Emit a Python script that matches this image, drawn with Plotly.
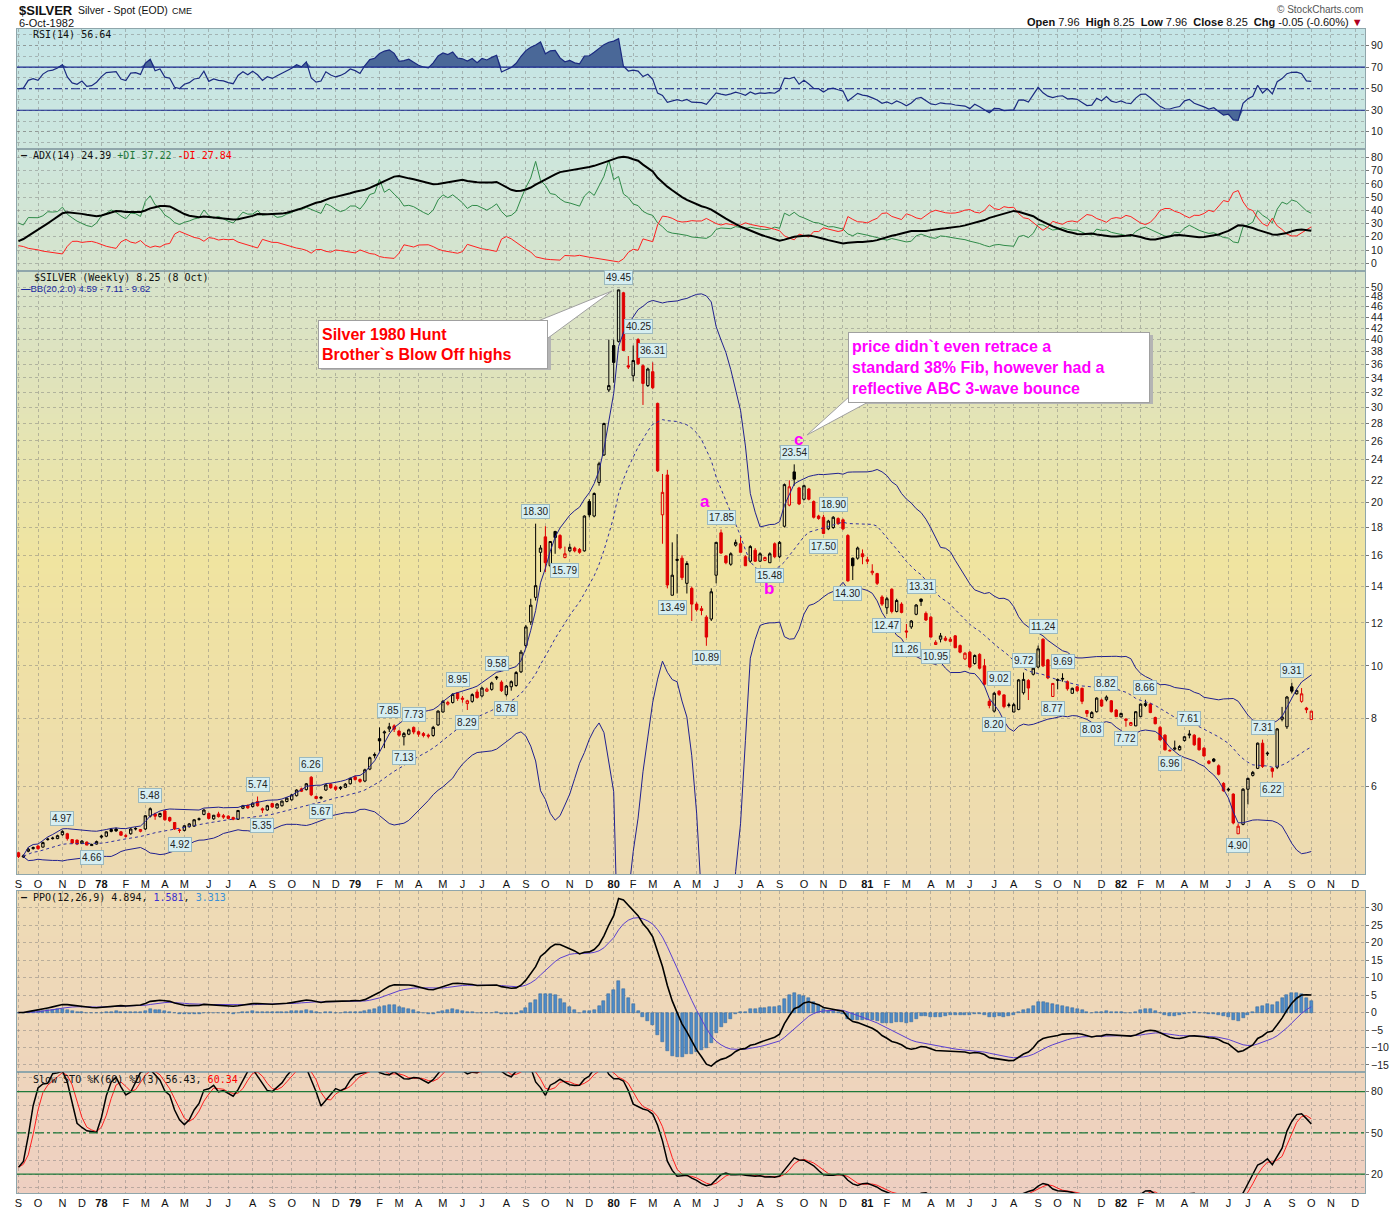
import numpy as np
import pandas as pd
import plotly.graph_objects as go

# ---- weekly $SILVER candles, week ending Fri 9-Sep-1977 .. 8-Oct-1982 ----
week_open = [
    4.52, 4.44, 4.55, 4.60, 4.65, 4.63, 4.78, 4.80, 4.80, 4.88,
    4.90, 4.78, 4.77, 4.70, 4.73, 4.66, 4.69, 4.83, 4.85, 4.99,
    5.00, 4.94, 4.86, 4.90, 5.00, 4.95, 5.00, 5.28, 5.33, 5.27,
    5.40, 5.25, 5.14, 4.98, 4.97, 5.05, 5.06, 5.21, 5.32, 5.34,
    5.22, 5.33, 5.29, 5.28, 5.25, 5.21, 5.46, 5.53, 5.50, 5.62,
    5.45, 5.42, 5.57, 5.47, 5.52, 5.62, 5.66, 5.76, 5.93, 5.91,
    6.23, 5.74, 5.70, 5.90, 6.05, 5.98, 5.94, 5.97, 6.06, 6.24,
    6.17, 6.13, 6.45, 6.83, 7.34, 7.52, 7.65, 7.75, 7.58, 7.40,
    7.48, 7.70, 7.56, 7.50, 7.45, 7.44, 7.78, 8.22, 8.50, 8.56,
    8.92, 8.72, 8.52, 8.60, 8.95, 8.80, 8.98, 9.05, 9.50, 9.33,
    8.85, 9.15, 9.20, 9.75, 10.90, 12.05, 13.38, 16.20, 17.30, 15.30,
    17.70, 17.40, 15.85, 16.30, 16.50, 16.40, 16.30, 20.10, 18.90, 21.80,
    24.50, 32.30, 39.00, 39.70, 48.80, 35.80, 34.30, 40.00, 35.80, 32.90,
    34.90, 30.50, 19.00, 22.50, 13.50, 15.65, 15.80, 14.20, 13.90, 13.00,
    12.75, 12.30, 12.20, 14.70, 17.60, 15.95, 15.40, 16.70, 16.80, 15.90,
    15.60, 16.35, 15.60, 15.65, 15.50, 16.80, 15.90, 18.10, 19.80, 22.80,
    21.30, 20.30, 21.20, 20.10, 18.90, 18.80, 17.90, 18.00, 18.70, 18.60,
    17.40, 15.80, 15.80, 16.10, 15.70, 14.85, 14.80, 13.40, 12.80, 13.85,
    12.60, 13.00, 11.60, 11.80, 12.45, 13.28, 12.50, 12.30, 10.95, 11.20,
    11.25, 11.20, 11.36, 10.90, 10.30, 10.60, 10.10, 10.50, 10.00, 8.60,
    8.25, 8.98, 8.84, 8.45, 8.22, 8.31, 8.92, 9.40, 9.65, 9.95,
    11.20, 10.26, 8.78, 9.40, 9.45, 9.35, 8.90, 9.15, 9.09, 8.27,
    8.03, 8.23, 8.65, 8.66, 8.62, 8.29, 8.05, 7.98, 7.77, 7.75,
    8.06, 8.45, 8.50, 8.03, 7.70, 7.45, 6.98, 7.02, 7.00, 7.28,
    7.45, 7.45, 7.35, 7.05, 6.67, 6.73, 6.54, 6.07, 5.90, 5.80,
    4.90, 5.10, 5.92, 6.28, 6.47, 7.20, 6.88, 6.47, 6.50, 7.97,
    7.72, 9.15, 8.88, 8.60, 8.36, 7.96,
]
week_high = [
    4.54, 4.49, 4.62, 4.64, 4.67, 4.74, 4.82, 4.84, 4.88, 4.97,
    4.92, 4.79, 4.78, 4.77, 4.74, 4.70, 4.76, 4.88, 4.95, 5.02,
    5.03, 4.96, 4.90, 5.02, 5.04, 5.00, 5.30, 5.48, 5.36, 5.36,
    5.42, 5.27, 5.15, 5.01, 5.08, 5.13, 5.21, 5.25, 5.44, 5.36,
    5.31, 5.38, 5.33, 5.30, 5.27, 5.42, 5.54, 5.55, 5.60, 5.74,
    5.48, 5.54, 5.59, 5.58, 5.64, 5.72, 5.80, 5.92, 5.96, 6.08,
    6.26, 5.76, 5.75, 6.05, 6.08, 6.02, 6.00, 6.08, 6.22, 6.28,
    6.20, 6.46, 6.80, 6.92, 7.70, 7.60, 7.85, 7.80, 7.62, 7.55,
    7.66, 7.73, 7.60, 7.55, 7.50, 7.75, 8.28, 8.65, 8.62, 8.90,
    8.95, 8.80, 8.66, 8.90, 9.05, 9.15, 9.12, 9.35, 9.58, 9.40,
    9.22, 9.40, 9.78, 10.70, 11.90, 13.30, 18.30, 16.70, 18.10, 17.00,
    17.75, 17.50, 16.60, 16.80, 16.60, 16.50, 18.95, 20.30, 20.90, 23.80,
    28.10, 40.00, 40.00, 49.45, 49.00, 37.30, 39.00, 40.25, 36.00, 35.50,
    36.31, 30.60, 22.60, 23.00, 16.90, 17.50, 16.00, 15.60, 14.00, 13.10,
    12.90, 12.40, 13.90, 16.90, 17.85, 16.00, 16.20, 17.10, 17.30, 16.00,
    16.70, 16.50, 16.20, 15.90, 16.20, 16.90, 17.00, 21.70, 22.00, 23.54,
    21.40, 21.60, 21.30, 20.20, 19.00, 19.00, 18.60, 18.90, 18.80, 18.70,
    17.50, 15.85, 16.60, 16.40, 15.90, 15.40, 14.85, 13.50, 13.40, 13.90,
    13.30, 13.10, 11.95, 12.15, 13.00, 13.31, 12.60, 12.35, 11.15, 11.50,
    11.35, 11.30, 11.40, 10.95, 10.60, 10.65, 10.50, 10.55, 10.30, 8.70,
    8.95, 9.02, 8.86, 8.55, 8.55, 9.45, 9.72, 9.45, 9.95, 10.90,
    11.24, 10.30, 9.30, 9.48, 9.69, 9.40, 9.12, 9.18, 9.12, 8.28,
    8.25, 8.75, 8.70, 8.82, 8.65, 8.32, 8.20, 8.00, 7.88, 8.25,
    8.52, 8.66, 8.55, 8.06, 7.75, 7.48, 7.02, 7.28, 7.14, 7.42,
    7.61, 7.48, 7.38, 7.08, 6.70, 6.76, 6.58, 6.10, 5.96, 5.82,
    5.12, 5.95, 6.22, 6.40, 7.22, 7.31, 6.95, 6.50, 7.68, 8.40,
    8.80, 9.31, 9.05, 9.10, 8.40, 8.25,
]
week_low = [
    4.42, 4.42, 4.53, 4.58, 4.58, 4.62, 4.76, 4.78, 4.79, 4.86,
    4.76, 4.69, 4.67, 4.69, 4.67, 4.66, 4.68, 4.80, 4.83, 4.93,
    4.94, 4.86, 4.82, 4.88, 4.97, 4.93, 4.98, 5.25, 5.20, 5.25,
    5.18, 5.15, 4.98, 4.92, 4.95, 5.03, 5.05, 5.18, 5.30, 5.21,
    5.20, 5.25, 5.22, 5.21, 5.19, 5.20, 5.44, 5.45, 5.48, 5.50,
    5.35, 5.40, 5.47, 5.45, 5.50, 5.60, 5.64, 5.74, 5.85, 5.89,
    5.75, 5.68, 5.67, 5.88, 5.93, 5.88, 5.90, 5.95, 6.04, 6.14,
    6.08, 6.10, 6.42, 6.75, 6.95, 7.05, 7.55, 7.55, 7.40, 7.13,
    7.45, 7.48, 7.40, 7.38, 7.35, 7.40, 7.75, 8.20, 8.45, 8.52,
    8.62, 8.55, 8.29, 8.55, 8.70, 8.75, 8.95, 9.00, 9.42, 8.95,
    8.78, 9.00, 9.15, 9.70, 10.80, 11.90, 13.20, 14.90, 14.90, 15.20,
    16.10, 16.40, 15.79, 16.20, 16.20, 16.10, 16.25, 18.80, 18.80, 21.50,
    24.40, 32.00, 33.30, 39.50, 38.10, 35.30, 33.50, 35.90, 30.30, 32.70,
    32.40, 22.80, 16.80, 13.90, 13.49, 13.60, 14.40, 13.60, 12.10, 12.60,
    12.40, 10.89, 12.10, 14.20, 16.10, 15.40, 15.30, 16.60, 16.20, 15.30,
    15.50, 15.55, 15.55, 15.60, 15.48, 15.80, 15.80, 18.00, 19.70, 21.50,
    19.80, 20.20, 20.20, 18.70, 18.60, 17.50, 17.80, 17.90, 18.20, 17.80,
    14.30, 14.40, 15.70, 15.40, 15.40, 14.70, 14.10, 12.90, 12.47, 12.50,
    12.55, 12.50, 11.26, 11.70, 12.40, 12.90, 12.10, 11.30, 10.95, 11.05,
    11.10, 11.05, 10.80, 10.55, 10.25, 9.90, 10.05, 9.85, 9.20, 8.35,
    8.20, 8.80, 8.35, 8.38, 8.21, 8.28, 8.85, 8.65, 9.60, 9.90,
    9.95, 9.45, 8.77, 9.05, 9.35, 9.00, 8.88, 8.95, 8.50, 8.05,
    8.03, 8.20, 8.40, 8.60, 8.20, 8.05, 8.04, 7.72, 7.75, 7.74,
    8.04, 8.40, 8.18, 7.80, 7.28, 6.98, 6.96, 6.98, 6.98, 7.25,
    7.35, 7.12, 6.98, 6.80, 6.58, 6.64, 6.28, 5.86, 5.86, 5.10,
    4.90, 5.08, 5.55, 6.25, 6.45, 6.48, 6.82, 6.22, 6.45, 7.90,
    7.65, 8.90, 8.85, 8.55, 8.18, 7.94,
]
week_close = [
    4.45, 4.46, 4.59, 4.62, 4.60, 4.72, 4.79, 4.81, 4.86, 4.95,
    4.80, 4.71, 4.69, 4.75, 4.67, 4.68, 4.74, 4.85, 4.94, 4.95,
    4.96, 4.87, 4.85, 5.00, 5.01, 4.99, 5.29, 5.45, 5.28, 5.34,
    5.20, 5.18, 5.00, 4.97, 5.07, 5.11, 5.20, 5.22, 5.42, 5.23,
    5.30, 5.27, 5.26, 5.23, 5.21, 5.41, 5.52, 5.47, 5.58, 5.52,
    5.42, 5.52, 5.49, 5.56, 5.63, 5.70, 5.78, 5.90, 5.87, 6.06,
    5.78, 5.69, 5.72, 6.03, 5.96, 5.92, 5.97, 6.05, 6.20, 6.17,
    6.12, 6.43, 6.77, 6.86, 7.27, 7.55, 7.72, 7.64, 7.45, 7.50,
    7.62, 7.55, 7.48, 7.44, 7.42, 7.70, 8.25, 8.60, 8.56, 8.86,
    8.70, 8.68, 8.62, 8.85, 8.74, 9.10, 9.06, 9.30, 9.53, 9.00,
    9.18, 9.35, 9.72, 10.60, 11.80, 12.94, 14.06, 16.50, 15.50, 16.96,
    17.25, 16.50, 16.10, 16.55, 16.30, 16.20, 18.90, 19.00, 20.80, 23.60,
    28.00, 32.90, 36.30, 49.40, 38.20, 35.60, 36.60, 36.10, 33.20, 35.30,
    32.60, 22.90, 20.90, 14.10, 14.70, 15.72, 14.55, 15.45, 13.00, 12.70,
    12.65, 11.30, 13.70, 16.90, 16.15, 15.50, 16.10, 16.90, 16.20, 15.30,
    16.60, 15.60, 16.10, 15.85, 16.10, 15.90, 16.90, 21.60, 21.40, 22.10,
    19.90, 21.50, 20.30, 18.80, 18.70, 17.55, 18.50, 18.80, 18.30, 17.90,
    14.35, 15.30, 16.50, 15.90, 15.60, 14.95, 14.20, 13.00, 13.30, 12.60,
    13.20, 12.55, 11.55, 12.10, 12.95, 13.15, 12.15, 11.30, 11.05, 11.36,
    11.15, 11.10, 10.80, 10.60, 10.55, 9.95, 10.45, 9.90, 9.25, 8.45,
    8.90, 8.86, 8.41, 8.47, 8.48, 9.42, 9.44, 9.10, 9.90, 10.75,
    10.00, 9.50, 9.28, 9.43, 9.48, 9.07, 9.09, 9.00, 8.60, 8.17,
    8.20, 8.72, 8.43, 8.76, 8.23, 8.06, 8.17, 7.93, 7.86, 8.23,
    8.50, 8.52, 8.20, 7.82, 7.30, 7.00, 6.97, 7.05, 7.10, 7.40,
    7.48, 7.15, 7.00, 6.82, 6.61, 6.67, 6.31, 5.88, 5.92, 5.13,
    5.06, 5.92, 6.20, 6.36, 7.20, 6.52, 6.90, 6.39, 7.65, 8.05,
    8.76, 8.98, 9.00, 8.88, 8.30, 8.25,
]

# swing-point labels drawn by the chart (week index, value)
swing_highs = [(9, 4.97), (27, 5.48), (49, 5.74), (60, 6.26), (76, 7.85), (81, 7.73),
               (90, 8.95), (98, 9.58), (106, 18.30), (123, 49.45), (127, 40.25),
               (130, 36.31), (144, 17.85), (159, 23.54), (167, 18.90), (185, 13.31),
               (201, 9.02), (206, 9.72), (210, 11.24), (214, 9.69), (223, 8.82),
               (231, 8.66), (240, 7.61), (255, 7.31), (261, 9.31)]
swing_lows = [(15, 4.66), (33, 4.92), (50, 5.35), (62, 5.67), (79, 7.13), (92, 8.29),
              (100, 8.78), (112, 15.79), (134, 13.49), (141, 10.89), (154, 15.48),
              (165, 17.50), (170, 14.30), (178, 12.47), (182, 11.26), (188, 10.95),
              (200, 8.20), (212, 8.77), (220, 8.03), (227, 7.72), (236, 6.96),
              (250, 4.90), (257, 6.22)]

price_ticks = [6, 8, 10, 12, 14, 16, 18, 20, 22, 24, 26, 28, 30, 32, 34, 36,
               38, 40, 42, 44, 46, 48, 50]

# ---- indicators ----
o = np.array(week_open)
hi = np.array(week_high)
lo = np.array(week_low)
cl = np.array(week_close)
n = len(cl)
dates = pd.date_range("1977-09-09", periods=n, freq="7D")


def wilder(vals, period, seed):
    out, s = [], seed
    for v in vals:
        s = s + (v - s) / period
        out.append(s)
    return np.array(out)


chg = np.diff(cl, prepend=cl[0])
seed = np.abs(chg[1:15]).mean() / 2
avg_gain = wilder(np.clip(chg, 0, None), 14, seed)
avg_loss = wilder(np.clip(-chg, 0, None), 14, seed)
rsi = 100 - 100 / (1 + avg_gain / avg_loss)

prev_c = np.r_[cl[0], cl[:-1]]
tr = np.maximum(hi, prev_c) - np.minimum(lo, prev_c)
up_mv = hi - np.r_[hi[0], hi[:-1]]
dn_mv = np.r_[lo[0], lo[:-1]] - lo
pdm = np.where((up_mv > dn_mv) & (up_mv > 0), up_mv, 0.0)
mdm = np.where((dn_mv > up_mv) & (dn_mv > 0), dn_mv, 0.0)
atr = wilder(tr, 14, tr[1:15].mean())
pdi = 100 * wilder(pdm, 14, pdm[1:15].mean()) / atr
mdi = 100 * wilder(mdm, 14, mdm[1:15].mean()) / atr
dx = 100 * np.abs(pdi - mdi) / (pdi + mdi)
adx = wilder(dx, 14, 15.0)

s_cl = pd.Series(cl)
bb_mid = s_cl.rolling(20, min_periods=2).mean()
bb_sd = s_cl.rolling(20, min_periods=2).std(ddof=0)
bb_up = bb_mid + 2 * bb_sd
bb_lo = (bb_mid - 2 * bb_sd).clip(lower=1.0)

ema12 = s_cl.ewm(span=12, adjust=False).mean()
ema26 = s_cl.ewm(span=26, adjust=False).mean()
ppo = (ema12 - ema26) / ema26 * 100
ppo_sig = ppo.ewm(span=9, adjust=False).mean()
ppo_hist = ppo - ppo_sig

hh = pd.Series(hi).rolling(60, min_periods=1).max()
ll = pd.Series(lo).rolling(60, min_periods=1).min()
fast_k = 100 * (s_cl - ll) / (hh - ll)
slow_k = fast_k.rolling(3, min_periods=1).mean()
slow_d = slow_k.rolling(3, min_periods=1).mean()

# ---- month ticks: first week whose Monday falls in a new month ----
tick_vals, tick_text, prev = [], [], None
for d in pd.date_range("1977-09-09", "1982-12-24", freq="7D"):
    mon = d - pd.Timedelta(days=4)
    if (mon.year, mon.month) != prev:
        tick_vals.append(d)
        tick_text.append(f"<b>{mon.year % 100}</b>" if mon.month == 1 else "JFMAMJJASOND"[mon.month - 1])
    prev = (mon.year, mon.month)

# ---- page geometry ----
W, H = 1400, 1210
ML, MR, MT, MB = 17, 35, 29, 17
PW, PH = W - ML - MR, H - MT - MB


def px(x):
    return (x - ML) / PW


def py(y):
    return (H - MB - y) / PH


RED = "#e00000"
NAVY = "#1b2a80"
GRID = "rgba(120,120,120,0.45)"
BORDER = "#8fa6ab"
MONO = "DejaVu Sans Mono"
SANS = "Liberation Sans, Arial"
NARROW = "Liberation Sans Narrow, Arial Narrow, Liberation Sans"

fig = go.Figure()

# RSI panel
fig.add_trace(go.Scatter(x=dates, y=[70] * n, xaxis="x", yaxis="y", line=dict(width=0), hoverinfo="skip"))
fig.add_trace(go.Scatter(x=dates, y=np.maximum(rsi, 70), xaxis="x", yaxis="y", fill="tonexty",
                         fillcolor="#4a6898", line=dict(width=0), hoverinfo="skip"))
fig.add_trace(go.Scatter(x=dates, y=[30] * n, xaxis="x", yaxis="y", line=dict(width=0), hoverinfo="skip"))
fig.add_trace(go.Scatter(x=dates, y=np.minimum(rsi, 30), xaxis="x", yaxis="y", fill="tonexty",
                         fillcolor="#4a6898", line=dict(width=0), hoverinfo="skip"))
fig.add_trace(go.Scatter(x=dates, y=rsi, xaxis="x", yaxis="y", line=dict(color=NAVY, width=1.2)))

# ADX panel
fig.add_trace(go.Scatter(x=dates, y=pdi, xaxis="x2", yaxis="y2", line=dict(color="#2f8a48", width=1)))
fig.add_trace(go.Scatter(x=dates, y=mdi, xaxis="x2", yaxis="y2", line=dict(color="#ff2020", width=1)))
fig.add_trace(go.Scatter(x=dates, y=adx, xaxis="x2", yaxis="y2", line=dict(color="black", width=2)))

# price panel: Bollinger bands + candles
fig.add_trace(go.Scatter(x=dates, y=bb_up, xaxis="x3", yaxis="y3", line=dict(color="#20208f", width=1)))
fig.add_trace(go.Scatter(x=dates, y=bb_lo, xaxis="x3", yaxis="y3", line=dict(color="#20208f", width=1)))
fig.add_trace(go.Scatter(x=dates, y=bb_mid, xaxis="x3", yaxis="y3",
                         line=dict(color="#3030a0", width=1, dash="dot")))
# black = close at/above previous close, red = below (first bar compared with its own open)
ref_close = np.r_[o[0], cl[:-1]]
up_week = cl >= ref_close
for mask, col in [(up_week, "black"), (~up_week, RED)]:
    fig.add_trace(go.Candlestick(
        x=dates[mask], open=o[mask], high=hi[mask], low=lo[mask], close=cl[mask],
        xaxis="x3", yaxis="y3", whiskerwidth=0,
        increasing=dict(line=dict(color=col, width=1), fillcolor="rgba(0,0,0,0)"),
        decreasing=dict(line=dict(color=col, width=1), fillcolor=col)))

# PPO panel
fig.add_trace(go.Bar(x=dates, y=ppo_hist, xaxis="x4", yaxis="y4", width=4.3 * 86400000,
                     marker=dict(color="#4d8ac6", line=dict(color="#2f6296", width=0.5))))
fig.add_trace(go.Scatter(x=dates, y=ppo_sig, xaxis="x4", yaxis="y4", line=dict(color="#5a3fd0", width=1)))
fig.add_trace(go.Scatter(x=dates, y=ppo, xaxis="x4", yaxis="y4", line=dict(color="black", width=1.6)))

# Slow stochastics panel
fig.add_trace(go.Scatter(x=dates, y=slow_d, xaxis="x5", yaxis="y5", line=dict(color="#ff2020", width=1)))
fig.add_trace(go.Scatter(x=dates, y=slow_k, xaxis="x5", yaxis="y5", line=dict(color="black", width=1.5)))

# ---- axes ----
x_range = [pd.Timestamp("1977-09-06 20:00"), pd.Timestamp("1982-12-24")]


def x_axis(anchor, labels):
    return dict(type="date", range=x_range, anchor=anchor, domain=[0, 1], tickmode="array",
                tickvals=tick_vals, ticktext=tick_text, showticklabels=labels, ticks="",
                tickangle=0, showgrid=True, gridcolor=GRID, griddash="dot", zeroline=False,
                showline=True, linecolor=BORDER, mirror=True, automargin=False,
                tickfont=dict(family=NARROW, size=11, color="#111"))


def y_axis(anchor, dom, rng, vals, minor=None, **kw):
    ax = dict(anchor=anchor, domain=dom, range=rng, side="right", tickmode="array", tickvals=vals,
              ticks="outside", ticklen=3, tickcolor="#777", showgrid=True, gridcolor=GRID,
              griddash="dot", zeroline=False, showline=True, linecolor=BORDER, mirror=True,
              automargin=False, tickfont=dict(family=SANS, size=10.5, color="#222"))
    if minor:
        ax["minor"] = dict(dtick=minor, showgrid=True, gridcolor=GRID, griddash="dot", ticks="")
    ax.update(kw)
    return ax


fig.update_layout(
    xaxis=x_axis("y", False), xaxis2=x_axis("y2", False),
    xaxis3=dict(x_axis("y3", True), rangeslider=dict(visible=False)),
    xaxis4=x_axis("y4", False), xaxis5=x_axis("y5", True),
    yaxis=y_axis("x", [py(149), py(29)], [-6, 105.5], [10, 30, 50, 70, 90], minor=10),
    yaxis2=y_axis("x2", [py(270.7), py(149)], [-5.6, 86.3], list(range(0, 90, 10))),
    yaxis3=y_axis("x3", [py(874), py(270.7)], [np.log10(4.13), np.log10(53.6)], price_ticks,
                  type="log", ticktext=[str(v) for v in price_ticks]),
    yaxis4=y_axis("x4", [py(1072.3), py(891)], [-17.1, 34.8], list(range(-15, 35, 5))),
    yaxis5=y_axis("x5", [0, py(1072.3)], [6.2, 94.1], [20, 50, 80], minor=10),
)

# ---- gradient backgrounds behind the panels ----
stops_top = [(29, (196, 229, 231)), (149, (205, 230, 221)), (271, (214, 227, 204)),
             (560, (240, 228, 160)), (874, (237, 218, 178))]
stops_bot = [(891, (238, 219, 180)), (1072, (238, 213, 188)), (1193, (238, 207, 193))]
shapes = []
for stops in (stops_top, stops_bot):
    y0, y1 = stops[0][0], stops[-1][0]
    for ya in np.arange(y0, y1, 5.0):
        yb = min(ya + 5, y1)
        ym = (ya + yb) / 2
        for (sa, ca), (sb, cb) in zip(stops[:-1], stops[1:]):
            if sa <= ym <= sb:
                t = (ym - sa) / (sb - sa)
                rgb = [int(round(a + (b - a) * t)) for a, b in zip(ca, cb)]
                break
        shapes.append(dict(type="rect", xref="paper", yref="paper", x0=0, x1=1,
                           y0=py(yb), y1=py(ya) + 0.0005, layer="below", line=dict(width=0),
                           fillcolor=f"rgb({rgb[0]},{rgb[1]},{rgb[2]})"))

# reference lines
for yv, dash in [(70, "solid"), (30, "solid"), (50, "dashdot")]:
    shapes.append(dict(type="line", xref="paper", yref="y", x0=0, x1=1, y0=yv, y1=yv,
                       line=dict(color="#1b2a90", width=1.2, dash=dash)))
for yv, dash in [(80, "solid"), (20, "solid"), (50, "dashdot")]:
    shapes.append(dict(type="line", xref="paper", yref="y5", x0=0, x1=1, y0=yv, y1=yv,
                       line=dict(color="#1f7a3a", width=1.2, dash=dash)))

# callout boxes: shadows and pointer wedges
for (bx0, by0, bx1, by1) in [(318, 320, 548, 367), (848, 332, 1150, 401)]:
    shapes.append(dict(type="rect", xref="paper", yref="paper", x0=px(bx0 + 3), x1=px(bx1 + 3),
                       y0=py(by1 + 3), y1=py(by0 + 3), fillcolor="#b4b4b4", line=dict(width=0)))
for pts in [[(538, 321), (612, 291), (548, 338)], [(850, 396), (807, 435), (872, 400)]]:
    path = "M " + " L ".join(f"{px(a):.5f},{py(b):.5f}" for a, b in pts) + " Z"
    shapes.append(dict(type="path", xref="paper", yref="paper", path=path,
                       fillcolor="white", line=dict(color="#a0a0a0", width=1)))

fig.update_layout(shapes=shapes)

ann = []


def text_at(x, y, text, size=10, family=MONO, color="#111", xanchor="left", **kw):
    ann.append(dict(xref="paper", yref="paper", x=px(x), y=py(y), text=text, showarrow=False,
                    xanchor=xanchor, yanchor="middle", font=dict(family=family, size=size, color=color),
                    **kw))


# header
text_at(17, 10, "<b>$SILVER</b>", size=13, family=SANS, color="#111")
text_at(76, 10, "Silver - Spot (EOD)", size=10.5, family=NARROW)
text_at(170, 11, "CME", size=9, family=SANS)
text_at(17, 23, "6-Oct-1982", size=11, family=NARROW)
text_at(1365, 9, "© StockCharts.com", size=10, family=SANS, color="#555", xanchor="right")
text_at(1365, 22, "<b>Open</b> 7.96  <b>High</b> 8.25  <b>Low</b> 7.96  <b>Close</b> 8.25  "
        "<b>Chg</b> -0.05 (-0.60%) <span style='color:#b00020'>▼</span>",
        size=11, family=NARROW, xanchor="right")

# panel legends
text_at(31, 35, "RSI(14) 56.64", color="#111")
text_at(19, 156, "<b>—</b> ADX(14) 24.39 <span style='color:#1f7a3a'>+DI 37.22</span> "
        "<span style='color:#ff0000'>-DI 27.84</span>")
text_at(32, 277, "$SILVER (Weekly) 8.25 (8 Oct)")
text_at(19, 288, "<b>—</b>BB(20,2.0) 4.59 - 7.11 - 9.62", size=9.5, family=SANS, color="#1b2aa0")
text_at(19, 897, "<b>—</b> PPO(12,26,9) 4.894, <span style='color:#3a2fd0'>1.581</span>, "
        "<span style='color:#3a90d8'>3.313</span>")
text_at(31, 1079, "Slow STO %K(60) %D(3) 56.43, <span style='color:#ff0000'>60.34</span>")

# callout texts
ann.append(dict(xref="paper", yref="paper", x=px(318), y=py(320), xanchor="left", yanchor="top",
                text="Silver 1980 Hunt<br>Brother`s Blow Off highs", showarrow=False, align="left",
                width=222, height=41, bgcolor="white", bordercolor="#a0a0a0", borderwidth=1,
                borderpad=3, font=dict(family=SANS, size=16, color="#ff0000", weight="bold")))
ann.append(dict(xref="paper", yref="paper", x=px(848), y=py(332), xanchor="left", yanchor="top",
                text="price didn`t even retrace a<br>standard 38% Fib, however had a<br>"
                     "reflective ABC 3-wave bounce",
                showarrow=False, align="left", width=294, height=63, bgcolor="white",
                bordercolor="#a0a0a0", borderwidth=1, borderpad=3,
                font=dict(family=SANS, size=16, color="#ff00ff", weight="bold")))
for (lx, ly, t) in [(705, 501, "a"), (769, 588, "b"), (798, 440, "c")]:
    text_at(lx, ly, f"<b>{t}</b>", size=17, family=SANS, color="#ff00ff", xanchor="center")

# swing labels
for pts, shift in [(swing_highs, 12), (swing_lows, -12)]:
    for i, v in pts:
        ann.append(dict(xref="x3", yref="y3", x=dates[i], y=np.log10(v), yshift=shift,
                        text=f"{v:.2f}", showarrow=False, bgcolor="#d6eef1", bordercolor="#9bb9bf",
                        borderwidth=1, borderpad=1, font=dict(family=SANS, size=10, color="#222")))

fig.update_layout(
    annotations=ann, width=W, height=H, margin=dict(l=ML, r=MR, t=MT, b=MB, autoexpand=False),
    paper_bgcolor="white", plot_bgcolor="rgba(0,0,0,0)", showlegend=False,
    boxmode="overlay", bargap=0, hovermode=False,
)

fix_page = ("document.body.style.margin='0';document.body.style.padding='0';"
            "document.documentElement.style.overflow='hidden';document.body.style.overflow='hidden';"
            "var g=document.getElementById('{plot_id}');"
            "g.parentElement.style.height='1210px';g.parentElement.style.overflow='hidden';")
fig.write_html("out.html", config={"displayModeBar": False}, post_script=fix_page)
